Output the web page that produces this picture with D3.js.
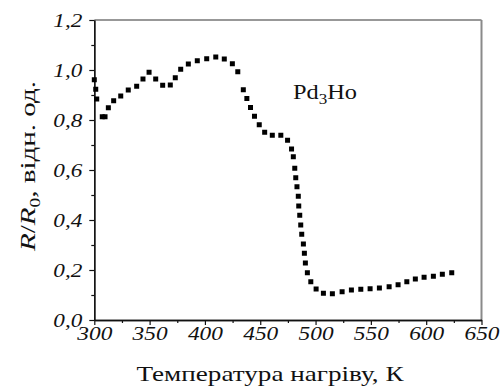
<!DOCTYPE html>
<html>
<head>
<meta charset="utf-8">
<script src="https://cdn.jsdelivr.net/npm/d3@7"></script>
<style>
  html, body { margin: 0; padding: 0; background: #fff; }
  svg { display: block; }
</style>
</head>
<body>
<svg id="chart" width="501" height="387"></svg>
<script>
// Heating temperature, K
const temperature = [
  300, 301.3, 302.2, 307.2, 309.7, 312.7, 317.5, 323.9, 330.7, 338.3,
  344, 349.5, 355.5, 361.8, 368.7, 373.2, 378.1, 385, 393.1, 401.6,
  409.8, 417.5, 424.8, 429.7, 434.7, 437.9, 441.2, 444.8, 449.1, 454,
  460.9, 468.6, 474.7, 478.3, 479.9, 481.2, 482.1, 483.2, 484.4, 484.8,
  485.7, 486.6, 487.5, 489, 489.9, 490.8, 492.6, 495.7, 500.5, 507.1,
  515.2, 524, 532.4, 540.9, 549.3, 557.7, 566.5, 574.6, 582.5, 590.2,
  598.1, 606.5, 614.6, 623.1
];
// Relative resistance R/R0
const resistance = [
  0.961, 0.923, 0.884, 0.813, 0.813, 0.849, 0.877, 0.896, 0.920, 0.935,
  0.964, 0.991, 0.964, 0.939, 0.940, 0.969, 1.003, 1.024, 1.037, 1.045,
  1.052, 1.044, 1.025, 0.993, 0.921, 0.886, 0.850, 0.815, 0.781, 0.751,
  0.739, 0.739, 0.719, 0.684, 0.653, 0.607, 0.569, 0.533, 0.495, 0.456,
  0.419, 0.380, 0.343, 0.304, 0.267, 0.228, 0.189, 0.153, 0.124, 0.107,
  0.105, 0.113, 0.120, 0.123, 0.125, 0.128, 0.133, 0.141, 0.153, 0.164,
  0.171, 0.175, 0.183, 0.189
];
const xTicks = [300, 350, 400, 450, 500, 550, 600, 650];
const yTicks = [0.0, 0.2, 0.4, 0.6, 0.8, 1.0, 1.2];
const xMinorTicks = d3.range(325, 650, 50);
const yMinorTicks = d3.range(0.1, 1.2, 0.2);

const SERIF = "Liberation Serif";
const ink = "#111";

const svg = d3.select("#chart");
const margin = { left: 94.3, right: 19.5, top: 20, bottom: 67 };
const W = 501, H = 387;

const x = d3.scaleLinear().domain([300, 650]).range([margin.left, W - margin.right]);
const y = d3.scaleLinear().domain([0, 1.2]).range([H - margin.bottom, margin.top]);

const fmt = d => d.toFixed(1).replace(".", ",");

// apply a serif face directly on a text element
function face(sel, size, italic) {
  sel.attr("font-family", SERIF).style("font-family", SERIF)
     .attr("font-size", size).style("font-size", size + "px")
     .attr("font-style", italic ? "italic" : "normal").style("font-style", italic ? "italic" : "normal")
     .attr("fill", ink);
  return sel;
}
// widen a text run to a given length (a broad book-style face)
function widen(sel, len) {
  return sel.attr("textLength", len).attr("lengthAdjust", "spacingAndGlyphs");
}

// frame: top and right edges
svg.append("line")
  .attr("x1", x(300)).attr("x2", x(650)).attr("y1", y(1.2)).attr("y2", y(1.2))
  .attr("stroke", "#333").attr("stroke-width", 1.2);
svg.append("line")
  .attr("x1", x(650)).attr("x2", x(650)).attr("y1", y(1.2)).attr("y2", y(0))
  .attr("stroke", "#8a8a8a").attr("stroke-width", 2);

// bottom axis
const gx = svg.append("g").attr("transform", `translate(0,${y(0)})`);
gx.call(d3.axisBottom(x).tickValues(xTicks).tickSize(5).tickSizeOuter(0).tickFormat(d3.format("d")));
gx.append("g").call(d3.axisBottom(x).tickValues(xMinorTicks).tickSize(3).tickSizeOuter(0).tickFormat(""));
gx.attr("font-family", SERIF);
gx.selectAll(".domain").attr("stroke", ink).attr("stroke-width", 1.3);
gx.selectAll(".tick line").attr("stroke", ink).attr("stroke-width", 1.2);
widen(face(gx.selectAll(".tick text"), 19, true).attr("dy", null).attr("y", 20), 35);

// left axis
const gy = svg.append("g").attr("transform", `translate(${x(300)},0)`);
gy.call(d3.axisLeft(y).tickValues(yTicks).tickSize(5).tickSizeOuter(0).tickFormat(fmt));
gy.append("g").call(d3.axisLeft(y).tickValues(yMinorTicks).tickSize(3).tickSizeOuter(0).tickFormat(""));
gy.attr("font-family", SERIF);
gy.selectAll(".domain").attr("stroke", ink).attr("stroke-width", 1.3);
gy.selectAll(".tick line").attr("stroke", ink).attr("stroke-width", 1.2);
widen(face(gy.selectAll(".tick text"), 19, true).attr("x", -12).attr("dy", "0.33em"), 29);

// data markers
const pts = d3.range(temperature.length).map(i => ({ t: temperature[i], r: resistance[i] }));
const s = 5;
svg.append("g").selectAll("rect").data(pts).join("rect")
  .attr("x", d => x(d.t) - s / 2)
  .attr("y", d => y(d.r) - s / 2)
  .attr("width", s).attr("height", s)
  .attr("fill", "#000");

// sample label
const lab = widen(face(svg.append("text"), 20, false).attr("x", 293).attr("y", 99), 64);
lab.append("tspan").text("Pd");
face(lab.append("tspan"), 14, false).attr("dy", 5).text("3");
lab.append("tspan").attr("dy", -5).text("Ho");

// axis titles
widen(face(svg.append("text"), 22, false)
  .attr("x", 270).attr("y", 381)
  .attr("text-anchor", "middle"), 267)
  .text("Температура нагріву, К");

const yt = widen(face(svg.append("text"), 21, false)
  .attr("transform", `translate(35,166) rotate(-90)`)
  .attr("text-anchor", "middle"), 170);
face(yt.append("tspan"), 21, true).text("R");
yt.append("tspan").text("/");
face(yt.append("tspan"), 21, true).text("R");
face(yt.append("tspan"), 14, false).attr("dy", 5).text("0");
yt.append("tspan").attr("dy", -5).text(", відн. од.");
</script>
</body>
</html>
